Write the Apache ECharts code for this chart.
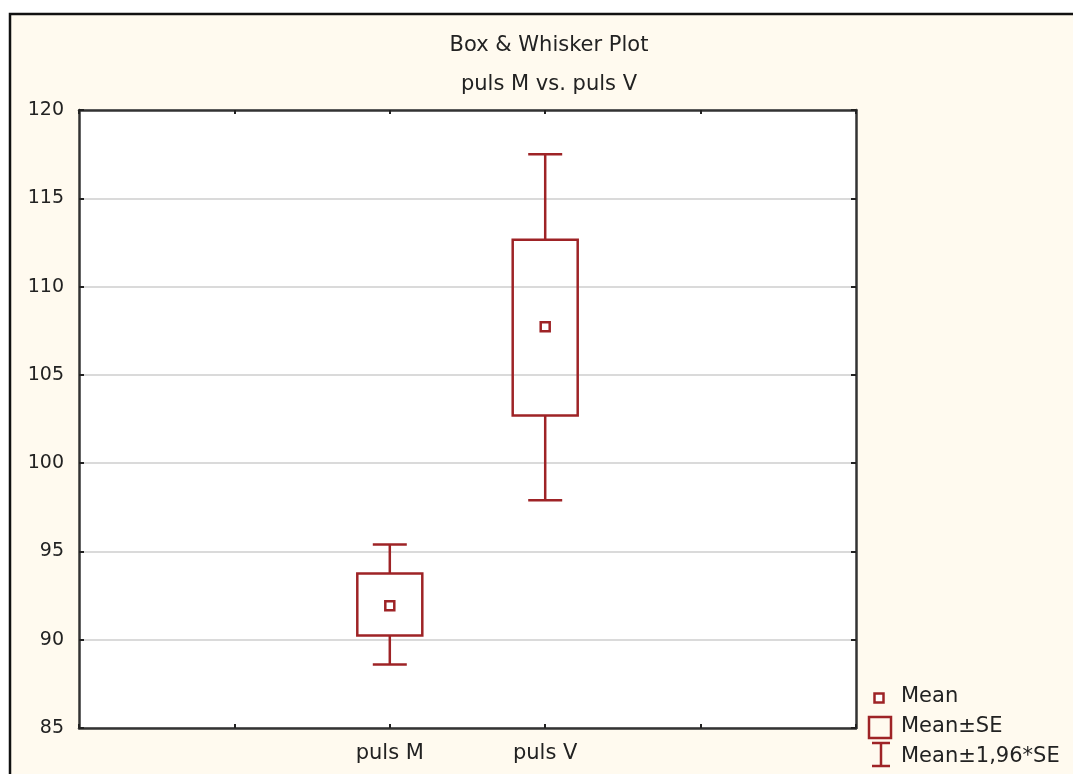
<!DOCTYPE html>
<html>
<head>
<meta charset="utf-8">
<script src="https://cdn.jsdelivr.net/npm/echarts@6/dist/echarts.min.js"></script>
<style>
html,body{margin:0;padding:0;background:#fff;}
#c{width:1073px;height:774px;}
</style>
</head>
<body>
<div id="c"></div>
<script>
// ---- data ----
var categories = ['puls M', 'puls V'];
var means   = [91.93, 107.72];
var seLow   = [90.24, 102.7];
var seHigh  = [93.75, 112.65];
var ciLow   = [88.6, 97.9];
var ciHigh  = [95.39, 117.5];
var yTicks  = [85, 90, 95, 100, 105, 110, 115, 120];
var titleText = 'Box & Whisker Plot';
var subTitleText = 'puls M vs. puls V';
var legendLabels = ['Mean', 'Mean\u00b1SE', 'Mean\u00b11,96*SE'];

// ---- layout helpers ----
var slots = ['', ''].concat(categories).concat(['', '']);
var offset = 2;
var RED = '#9e2326';
var FONT = 'DejaVu Sans';
var TXT = '#222';
var LW = 2.5;

var rows = categories.map(function (c, i) {
  return [i + offset, ciLow[i], seLow[i], means[i], seHigh[i], ciHigh[i]];
});

function renderItem(params, api) {
  var x = api.value(0);
  var pLo = api.coord([x, api.value(1)]);
  var pBl = api.coord([x, api.value(2)]);
  var pM  = api.coord([x, api.value(3)]);
  var pBh = api.coord([x, api.value(4)]);
  var pHi = api.coord([x, api.value(5)]);
  var cx = pM[0];
  var halfBox = 32.5, halfCap = 17, halfMean = 4.5;
  var st = {stroke: RED, lineWidth: LW, fill: null};
  return {
    type: 'group',
    children: [
      {type: 'line', shape: {x1: cx, y1: pHi[1], x2: cx, y2: pBh[1]}, style: st},
      {type: 'line', shape: {x1: cx, y1: pBl[1], x2: cx, y2: pLo[1]}, style: st},
      {type: 'line', shape: {x1: cx - halfCap, y1: pHi[1], x2: cx + halfCap, y2: pHi[1]}, style: st},
      {type: 'line', shape: {x1: cx - halfCap, y1: pLo[1], x2: cx + halfCap, y2: pLo[1]}, style: st},
      {type: 'rect', shape: {x: cx - halfBox, y: pBh[1], width: 2 * halfBox, height: pBl[1] - pBh[1]}, style: {stroke: RED, lineWidth: LW, fill: 'rgba(0,0,0,0)'}},
      {type: 'rect', shape: {x: cx - halfMean, y: pM[1] - halfMean, width: 2 * halfMean, height: 2 * halfMean}, style: {stroke: RED, lineWidth: LW, fill: '#fff'}}
    ]
  };
}

var chart = echarts.init(document.getElementById('c'), null, {renderer: 'canvas'});

var axisLineStyle = {color: '#333', width: 2.5};
var legendFont = '21px "DejaVu Sans"';
var option = {
  backgroundColor: '#fff',
  animation: false,
  textStyle: {fontFamily: FONT},
  title: {
    text: titleText,
    subtext: subTitleText,
    left: 549,
    top: 35,
    padding: 0,
    textAlign: 'center',
    itemGap: 18,
    textStyle: {fontFamily: FONT, fontSize: 21, fontWeight: 'normal', color: TXT},
    subtextStyle: {fontFamily: FONT, fontSize: 21, color: TXT}
  },
  grid: {
    left: 79, top: 110, right: 217, bottom: 46,
    show: true, backgroundColor: '#fff', borderWidth: 0,
    containLabel: false
  },
  xAxis: [{
    type: 'category',
    data: slots,
    boundaryGap: false,
    position: 'bottom',
    axisLine: {show: true, lineStyle: axisLineStyle},
    axisTick: {show: true, inside: true, length: 4, interval: 0, lineStyle: {color: '#222', width: 2}},
    axisLabel: {interval: 0, fontFamily: FONT, fontSize: 21, color: TXT, margin: 15},
    splitLine: {show: false}
  }, {
    type: 'category',
    data: slots,
    boundaryGap: false,
    position: 'top',
    axisLine: {show: true, lineStyle: axisLineStyle},
    axisTick: {show: true, inside: true, length: 4, interval: 0, lineStyle: {color: '#222', width: 2}},
    axisLabel: {show: false},
    splitLine: {show: false}
  }],
  yAxis: [{
    type: 'value',
    min: yTicks[0],
    max: yTicks[yTicks.length - 1],
    interval: yTicks[1] - yTicks[0],
    position: 'left',
    axisLine: {show: true, lineStyle: axisLineStyle},
    axisTick: {show: true, inside: true, length: 5, lineStyle: {color: '#222', width: 2}},
    axisLabel: {fontFamily: FONT, fontSize: 19, color: TXT, margin: 15},
    splitLine: {show: true, lineStyle: {color: '#dadada', width: 2}}
  }, {
    type: 'value',
    min: yTicks[0],
    max: yTicks[yTicks.length - 1],
    interval: yTicks[1] - yTicks[0],
    position: 'right',
    axisLine: {show: true, lineStyle: axisLineStyle},
    axisTick: {show: true, inside: true, length: 5, lineStyle: {color: '#222', width: 2}},
    axisLabel: {show: false},
    splitLine: {show: false}
  }],
  graphic: [
    {type: 'rect', z: -10, silent: true, shape: {x: 10, y: 14, width: 1100, height: 800},
     style: {fill: '#fffaef', stroke: '#111', lineWidth: 2.5}},
    // legend
    {type: 'rect', shape: {x: 874.5, y: 693.5, width: 9, height: 9}, style: {fill: '#fff', stroke: RED, lineWidth: LW}},
    {type: 'text', x: 901, y: 697, style: {text: legendLabels[0], font: legendFont, fill: TXT, verticalAlign: 'middle'}},
    {type: 'rect', shape: {x: 869, y: 717, width: 22, height: 21}, style: {fill: 'rgba(0,0,0,0)', stroke: RED, lineWidth: LW}},
    {type: 'text', x: 901, y: 727, style: {text: legendLabels[1], font: legendFont, fill: TXT, verticalAlign: 'middle'}},
    {type: 'line', shape: {x1: 872, y1: 743, x2: 890, y2: 743}, style: {stroke: RED, lineWidth: LW}},
    {type: 'line', shape: {x1: 881, y1: 743, x2: 881, y2: 766}, style: {stroke: RED, lineWidth: LW}},
    {type: 'line', shape: {x1: 872, y1: 766, x2: 890, y2: 766}, style: {stroke: RED, lineWidth: LW}},
    {type: 'text', x: 901, y: 757, style: {text: legendLabels[2], font: legendFont, fill: TXT, verticalAlign: 'middle'}}
  ],
  series: [{
    type: 'custom',
    name: 'Mean\u00b1SE',
    xAxisIndex: 0,
    yAxisIndex: 0,
    renderItem: renderItem,
    encode: {x: 0, y: [1, 2, 3, 4, 5]},
    data: rows,
    z: 5
  }]
};
chart.setOption(option);
</script>
</body>
</html>
